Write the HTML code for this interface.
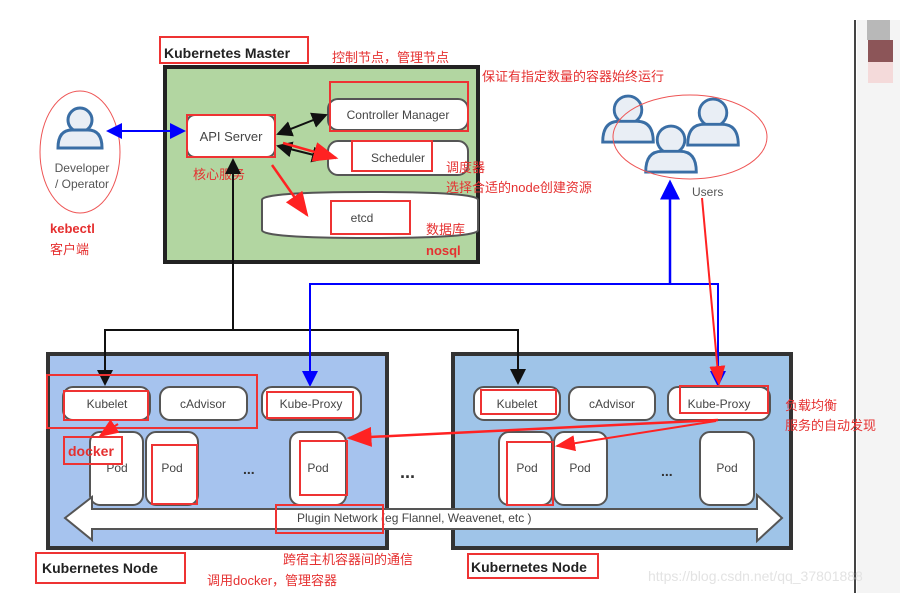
<!DOCTYPE html>
<html><head><meta charset="utf-8"><style>
body{margin:0;width:900px;height:593px;overflow:hidden;background:#fff;font-family:"Liberation Sans","Noto Sans CJK SC",sans-serif}
svg{position:absolute;left:0;top:0}
</style></head><body>
<svg width="900" height="593" viewBox="0 0 900 593" font-family="Liberation Sans, Noto Sans CJK SC, sans-serif">
<defs>
<marker id="ab" markerWidth="8" markerHeight="8" refX="7" refY="4" orient="auto"><path d="M0,0L8,4L0,8z" fill="#111"/></marker>
<marker id="abs" markerWidth="8" markerHeight="8" refX="1" refY="4" orient="auto"><path d="M8,0L0,4L8,8z" fill="#111"/></marker>
<marker id="ablu" markerWidth="8" markerHeight="8" refX="7" refY="4" orient="auto"><path d="M0,0L8,4L0,8z" fill="#00f"/></marker>
<marker id="ablus" markerWidth="8" markerHeight="8" refX="1" refY="4" orient="auto"><path d="M8,0L0,4L8,8z" fill="#00f"/></marker>
<marker id="ar" markerWidth="10" markerHeight="8" refX="9" refY="4" orient="auto"><path d="M0,0L10,4L0,8z" fill="#f22"/></marker>
<g id="user"><circle cx="0" cy="-8" r="12" fill="#e9eef5" stroke="#3a6ea5" stroke-width="3"/><path d="M-22,20 Q-22,2 -8,2 L8,2 Q22,2 22,20 Z" fill="#e9eef5" stroke="#3a6ea5" stroke-width="3"/></g>
<g id="user2"><circle cx="0" cy="-8" r="12" fill="#e9eef5" stroke="#3a6ea5" stroke-width="2.5"/><path d="M-22,20 Q-22,2 -8,2 L8,2 Q22,2 22,20 Z" fill="#e9eef5" stroke="#3a6ea5" stroke-width="2.5"/></g>
</defs>
<line x1="855" y1="20" x2="855" y2="593" stroke="#444" stroke-width="2"/>
<rect x="857" y="20" width="43" height="573" fill="#f4f4f4"/>
<rect x="867" y="20" width="23" height="20" fill="#b8b8b8"/>
<rect x="868" y="40" width="25" height="22" fill="#8c5558"/>
<rect x="868" y="62" width="25" height="21" fill="#f4dada"/>
<rect x="165" y="67" width="313" height="195" fill="#b2d6a1" stroke="#222" stroke-width="4"/>
<rect x="160" y="37" width="148" height="26" fill="none" stroke="#e33" stroke-width="2"/>
<text x="164" y="58" font-size="14" font-weight="bold" fill="#222">Kubernetes Master</text>
<rect x="187" y="115" width="88" height="42" rx="8" fill="#fff" stroke="#555" stroke-width="2"/>
<rect x="187" y="115" width="88" height="42" fill="none" stroke="#e33" stroke-width="2"/>
<text x="231" y="141" font-size="13" fill="#444" text-anchor="middle">API Server</text>
<rect x="328" y="99" width="140" height="31" rx="10" fill="#fff" stroke="#555" stroke-width="2"/>
<rect x="330" y="82" width="138" height="49" fill="none" stroke="#e33" stroke-width="2"/>
<text x="398" y="119" font-size="12" fill="#444" text-anchor="middle">Controller Manager</text>
<rect x="328" y="141" width="140" height="34" rx="10" fill="#fff" stroke="#555" stroke-width="2"/>
<rect x="352" y="141" width="80" height="30" fill="none" stroke="#e33" stroke-width="2"/>
<text x="398" y="162" font-size="12" fill="#444" text-anchor="middle">Scheduler</text>
<path d="M262,200 Q262,192 370,192 Q478,192 478,200 L478,230 Q478,238 370,238 Q262,238 262,230 Z" fill="#fff" stroke="#555" stroke-width="2"/>
<rect x="331" y="201" width="79" height="33" fill="none" stroke="#e33" stroke-width="2"/>
<text x="362" y="222" font-size="12" fill="#444" text-anchor="middle">etcd</text>
<line x1="278" y1="134" x2="326" y2="115" stroke="#111" stroke-width="2" marker-start="url(#abs)" marker-end="url(#ab)"/>
<line x1="278" y1="146" x2="326" y2="158" stroke="#111" stroke-width="2" marker-start="url(#abs)" marker-end="url(#ab)"/>
<line x1="283" y1="143" x2="336" y2="158" stroke="#f22" stroke-width="2.5" marker-end="url(#ar)"/>
<line x1="272" y1="165" x2="307" y2="215" stroke="#f22" stroke-width="2.5" marker-end="url(#ar)"/>
<ellipse cx="80" cy="152" rx="40" ry="61" fill="none" stroke="#e55" stroke-width="1"/>
<use href="#user" x="80" y="128"/>
<text x="82" y="172" font-size="12" fill="#555" text-anchor="middle">Developer</text>
<text x="82" y="188" font-size="12" fill="#555" text-anchor="middle">/ Operator</text>
<line x1="108" y1="131" x2="184" y2="131" stroke="#00f" stroke-width="2" marker-start="url(#ablus)" marker-end="url(#ablu)"/>
<use href="#user2" transform="translate(628,119) scale(1.15)"/>
<use href="#user2" transform="translate(713,122) scale(1.15)"/>
<use href="#user2" transform="translate(671,149) scale(1.15)"/>
<ellipse cx="690" cy="137" rx="77" ry="42" fill="none" stroke="#e55" stroke-width="1"/>
<text x="692" y="196" font-size="12" fill="#555">Users</text>
<rect x="48" y="354" width="339" height="194" fill="#a6c3ee" stroke="#333" stroke-width="4"/>
<rect x="453" y="354" width="338" height="194" fill="#9fc4e8" stroke="#333" stroke-width="4"/>
<g fill="#e53030" font-size="13">
<text x="332" y="62">控制节点，管理节点</text>
<text x="482" y="81">保证有指定数量的容器始终运行</text>
<text x="193" y="179">核心服务</text>
<text x="446" y="172">调度器</text>
<text x="446" y="192">选择合适的node创建资源</text>
<text x="426" y="234">数据库</text>
<text x="426" y="255" font-weight="bold">nosql</text>
<text x="50" y="233" font-weight="bold">kebectl</text>
<text x="50" y="254">客户端</text>
<text x="785" y="410">负载均衡</text>
<text x="785" y="430">服务的自动发现</text>
<text x="283" y="564">跨宿主机容器间的通信</text>
<text x="207" y="585">调用docker，管理容器</text>
</g>
<polyline points="233,330 233,160" fill="none" stroke="#111" stroke-width="2" marker-end="url(#ab)"/>
<polyline points="105,383 105,330 518,330 518,383" fill="none" stroke="#111" stroke-width="2" marker-end="url(#ab)"/>
<line x1="105" y1="336" x2="105" y2="384" stroke="#111" stroke-width="2" marker-end="url(#ab)"/>
<polyline points="310,385 310,284 718,284 718,385" fill="none" stroke="#00f" stroke-width="2" marker-end="url(#ablu)"/>
<line x1="310" y1="300" x2="310" y2="385" stroke="#00f" stroke-width="2" marker-end="url(#ablu)"/>
<line x1="670" y1="284" x2="670" y2="182" stroke="#00f" stroke-width="2.5" marker-end="url(#ablu)"/>
<line x1="702" y1="198" x2="719" y2="384" stroke="#f22" stroke-width="2" marker-end="url(#ar)"/>
<g font-size="12" fill="#444" text-anchor="middle">
<rect x="63" y="387" width="87" height="33" rx="10" fill="#fff" stroke="#555" stroke-width="2"/><text x="107" y="408">Kubelet</text>
<rect x="160" y="387" width="87" height="33" rx="10" fill="#fff" stroke="#555" stroke-width="2"/><text x="203" y="408">cAdvisor</text>
<rect x="262" y="387" width="99" height="33" rx="10" fill="#fff" stroke="#555" stroke-width="2"/><text x="311" y="408">Kube-Proxy</text>
<rect x="90" y="432" width="53" height="73" rx="10" fill="#fff" stroke="#555" stroke-width="2"/><text x="117" y="472">Pod</text>
<rect x="146" y="432" width="52" height="73" rx="10" fill="#fff" stroke="#555" stroke-width="2"/><text x="172" y="472">Pod</text>
<rect x="290" y="432" width="56" height="73" rx="10" fill="#fff" stroke="#555" stroke-width="2"/><text x="318" y="472">Pod</text>
<rect x="474" y="387" width="86" height="33" rx="10" fill="#fff" stroke="#555" stroke-width="2"/><text x="517" y="408">Kubelet</text>
<rect x="569" y="387" width="86" height="33" rx="10" fill="#fff" stroke="#555" stroke-width="2"/><text x="612" y="408">cAdvisor</text>
<rect x="668" y="387" width="102" height="33" rx="10" fill="#fff" stroke="#555" stroke-width="2"/><text x="719" y="408">Kube-Proxy</text>
<rect x="499" y="432" width="53" height="73" rx="10" fill="#fff" stroke="#555" stroke-width="2"/><text x="527" y="472">Pod</text>
<rect x="554" y="432" width="53" height="73" rx="10" fill="#fff" stroke="#555" stroke-width="2"/><text x="580" y="472">Pod</text>
<rect x="700" y="432" width="54" height="73" rx="10" fill="#fff" stroke="#555" stroke-width="2"/><text x="727" y="472">Pod</text>
</g>
<g font-size="14" font-weight="bold" fill="#333"><text x="243" y="474">...</text><text x="400" y="478" font-size="18">...</text><text x="661" y="476">...</text></g>
<path d="M65,518 L92,497 L92,509 L757,509 L757,495 L782,518 L757,541 L757,529 L92,529 L92,540 Z" fill="#fff" stroke="#555" stroke-width="2"/>
<text x="297" y="522" font-size="12" fill="#444">Plugin Network (eg Flannel, Weavenet, etc )</text>
<g fill="none" stroke="#e33" stroke-width="2">
<rect x="47" y="375" width="210" height="53"/>
<rect x="64" y="391" width="84" height="29"/>
<rect x="267" y="392" width="86" height="26"/>
<rect x="64" y="437" width="58" height="27"/>
<rect x="152" y="445" width="45" height="59"/>
<rect x="300" y="441" width="47" height="54"/>
<rect x="276" y="505" width="107" height="28"/>
<rect x="36" y="553" width="149" height="30"/>
<rect x="481" y="390" width="75" height="24"/>
<rect x="680" y="386" width="88" height="27"/>
<rect x="507" y="442" width="46" height="63"/>
<rect x="468" y="554" width="130" height="24"/>
</g>
<text x="68" y="456" font-size="14" font-weight="bold" fill="#e53030">docker</text>
<line x1="118" y1="424" x2="100" y2="436" stroke="#f22" stroke-width="2" marker-end="url(#ar)"/>
<g font-size="14" font-weight="bold" fill="#222"><text x="42" y="573">Kubernetes Node</text><text x="471" y="572">Kubernetes Node</text></g>
<line x1="718" y1="420" x2="349" y2="438" stroke="#f22" stroke-width="2.5" marker-end="url(#ar)"/>
<line x1="716" y1="421" x2="557" y2="446" stroke="#f22" stroke-width="2" marker-end="url(#ar)"/>
<text x="648" y="581" font-size="14" fill="#e3e3e3">https://blog.csdn.net/qq_37801888</text>
</svg>
</body></html>
